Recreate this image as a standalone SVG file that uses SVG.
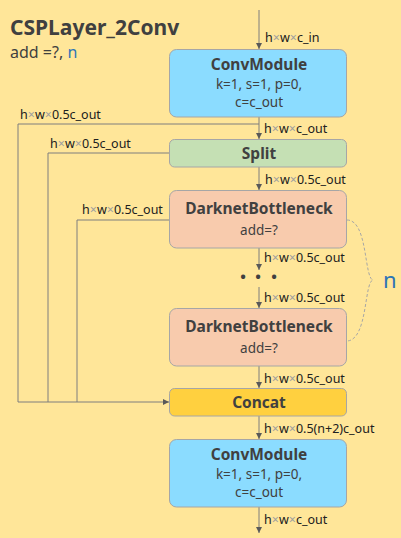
<svg xmlns="http://www.w3.org/2000/svg" width="401" height="538" viewBox="0 0 401 538">
<defs>
<style>
text{font-family:"Noto Sans","Open Sans","DejaVu Sans",sans-serif;fill:#404040}
.t{font-size:21px;font-weight:bold}
.s{font-size:16px}
.b{font-size:15.5px;font-weight:bold;text-anchor:middle}
.p{font-size:13.5px;text-anchor:middle}
.l{font-size:12.5px;fill:#202020}
.x{fill:#a0a0a0}
.node{stroke:#a6a6a6;stroke-width:1}
.ln{fill:none;stroke:#7f7f7f;stroke-width:1}
</style>
<marker id="ar" viewBox="0 0 6 6" refX="6" refY="3" markerWidth="6" markerHeight="6" orient="auto" markerUnits="userSpaceOnUse">
<path d="M0,0 L6,3 L0,6 z" fill="#595959"/>
</marker>
</defs>
<rect width="401" height="538" fill="#FFE699"/>
<text class="t" x="10" y="35">CSPLayer_2Conv</text>
<text class="s" x="10" y="58">add =?, <tspan fill="#2E75B6">n</tspan></text>

<g id="connectors">
<path class="ln" d="M259,10 V49" marker-end="url(#ar)"/>
<path class="ln" d="M259,117 V139" marker-end="url(#ar)"/>
<path class="ln" d="M259,167 V190" marker-end="url(#ar)"/>
<path class="ln" d="M259,248 V270" marker-end="url(#ar)"/>
<path class="ln" d="M259,287 V308" marker-end="url(#ar)"/>
<path class="ln" d="M259,366 V388" marker-end="url(#ar)"/>
<path class="ln" d="M259,416 V439" marker-end="url(#ar)"/>
<path class="ln" d="M259,507 V533" marker-end="url(#ar)"/>
<path class="ln" d="M259,124 H18 V402 H169" marker-end="url(#ar)"/>
<path class="ln" d="M170,153 H48 V402"/>
<path class="ln" d="M170,220 H77 V402" stroke="#c0ad78"/>
<path d="M347,220 C368,220 364,278 373,280 C364,282 368,340 347,341" fill="none" stroke="#a6a6a6" stroke-width="1" stroke-dasharray="3,2"/>
<text x="383" y="288" font-size="22" style="fill:#2E75B6">n</text>
<text x="243" y="282" font-size="15" font-weight="bold" text-anchor="middle">•</text>
<text x="258" y="282" font-size="15" font-weight="bold" text-anchor="middle">•</text>
<text x="274" y="282" font-size="15" font-weight="bold" text-anchor="middle">•</text>
<text class="l" x="265" y="42">h<tspan class="x">×</tspan>w<tspan class="x">×</tspan>c_in</text>
<text class="l" x="264" y="133">h<tspan class="x">×</tspan>w<tspan class="x">×</tspan>c_out</text>
<text class="l" x="265" y="184">h<tspan class="x">×</tspan>w<tspan class="x">×</tspan>0.5c_out</text>
<text class="l" x="264" y="262">h<tspan class="x">×</tspan>w<tspan class="x">×</tspan>0.5c_out</text>
<text class="l" x="264" y="302">h<tspan class="x">×</tspan>w<tspan class="x">×</tspan>0.5c_out</text>
<text class="l" x="264" y="383">h<tspan class="x">×</tspan>w<tspan class="x">×</tspan>0.5c_out</text>
<text class="l" x="264" y="433">h<tspan class="x">×</tspan>w<tspan class="x">×</tspan>0.5(n+2)c_out</text>
<text class="l" x="264" y="524">h<tspan class="x">×</tspan>w<tspan class="x">×</tspan>c_out</text>
<text class="l" x="20" y="119">h<tspan class="x">×</tspan>w<tspan class="x">×</tspan>0.5c_out</text>
<text class="l" x="50" y="148">h<tspan class="x">×</tspan>w<tspan class="x">×</tspan>0.5c_out</text>
<text class="l" x="82" y="214">h<tspan class="x">×</tspan>w<tspan class="x">×</tspan>0.5c_out</text>
</g>

<g id="conv1">
<rect class="node" x="169.5" y="49.5" width="177" height="67.5" rx="7" fill="#8BDCFF"/>
<text class="b" x="259" y="70">ConvModule</text>
<text class="p" x="259" y="89">k=1, s=1, p=0,</text>
<text class="p" x="259" y="107">c=c_out</text>
</g>
<g id="split">
<rect class="node" x="169.5" y="139.5" width="177" height="27.5" rx="5" fill="#C5E0B4"/>
<text class="b" x="259" y="159">Split</text>
</g>
<g id="dark1">
<rect class="node" x="169.5" y="190.5" width="177" height="57.5" rx="7" fill="#F8CBAD"/>
<text class="b" x="259" y="214">DarknetBottleneck</text>
<text class="p" x="259" y="235">add=?</text>
</g>
<g id="dark2">
<rect class="node" x="169.5" y="308.5" width="177" height="57.5" rx="7" fill="#F8CBAD"/>
<text class="b" x="259" y="332">DarknetBottleneck</text>
<text class="p" x="259" y="353">add=?</text>
</g>
<g id="concat">
<rect class="node" x="169.5" y="388.5" width="177" height="27.5" rx="5" fill="#FFD03F"/>
<text class="b" x="259" y="408">Concat</text>
</g>
<g id="conv2">
<rect class="node" x="169.5" y="439.5" width="177" height="67.5" rx="7" fill="#8BDCFF"/>
<text class="b" x="259" y="460">ConvModule</text>
<text class="p" x="259" y="479">k=1, s=1, p=0,</text>
<text class="p" x="259" y="497">c=c_out</text>
</g>
</svg>
